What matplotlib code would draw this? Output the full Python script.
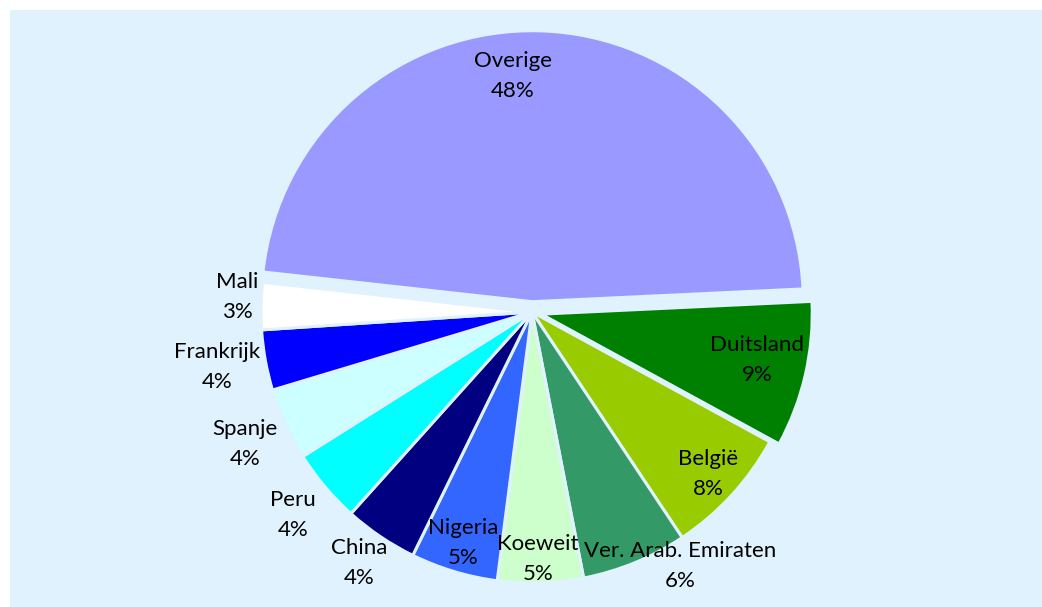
import matplotlib
matplotlib.use("Agg")
import matplotlib.pyplot as plt
from matplotlib.patches import Rectangle

# ---- data ----
countries = ["Duitsland", "België", "Ver. Arab. Emiraten", "Koeweit", "Nigeria",
             "China", "Peru", "Spanje", "Frankrijk", "Mali", "Overige"]
shares = [8.7, 7.7, 6.3, 5.1, 5.2, 4.4, 4.4, 4.3, 3.6, 2.8, 47.5]
colors = ["#008000", "#99cc00", "#339966", "#ccffcc", "#3366ff",
          "#000080", "#00ffff", "#ccffff", "#0000ff", "#ffffff", "#9999ff"]
explode = [0.035, 0, 0, 0, 0, 0, 0, 0, 0, 0, 0.038]

# label block centres in pixel coordinates (layout only)
label_px = {
    "Duitsland": (757, 360), "België": (708, 474), "Ver. Arab. Emiraten": (680, 566),
    "Koeweit": (538, 559), "Nigeria": (463, 543), "China": (359, 563),
    "Peru": (293, 515), "Spanje": (245, 444), "Frankrijk": (217, 367),
    "Mali": (237, 297), "Overige": (513, 76),
}

W, H = 1042, 607
CX, CY, R = 532, 312, 271
BG = "#e0f2fd"

plt.rcParams['font.family'] = ['Lato', 'DejaVu Sans']

fig = plt.figure(figsize=(W / 100, H / 100), dpi=100, facecolor="white")
fig.patches.append(Rectangle((10 / W, 0), 1 - 10 / W, 1 - 10 / H,
                             transform=fig.transFigure, facecolor=BG,
                             edgecolor="none", zorder=-10))
ax = fig.add_axes([0, 0, 1, 1])
ax.set_zorder(1)
ax.set_facecolor("none")
ax.axis("off")

ax.pie(shares, colors=colors, explode=explode, startangle=2.7, counterclock=False,
       radius=1, wedgeprops=dict(edgecolor=BG, linewidth=2.2))
ax.set_xlim(-CX / R, (W - CX) / R)
ax.set_ylim(-(H - CY) / R, CY / R)
ax.set_aspect("auto")


def px2data(px, py):
    return (px - CX) / R, (CY - py) / R


for name, val in zip(countries, shares):
    x, y = px2data(*label_px[name])
    ax.text(x, y, f"{name}\n{int(round(val))}%", ha="center", va="center",
            fontsize=16, linespacing=1.58, color="black")

fig.savefig("out.png", dpi=100, facecolor="white")
